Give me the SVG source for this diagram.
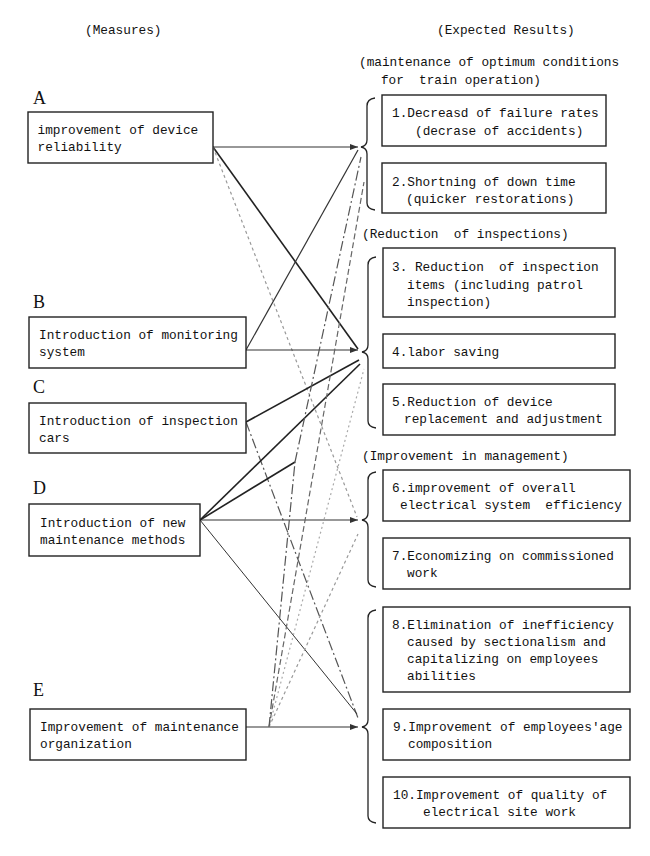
<svg xmlns="http://www.w3.org/2000/svg" width="650" height="856" viewBox="0 0 650 856">
<style>
.bg{fill:#fff}
.box{fill:#fff;stroke:#222;stroke-width:1.4}
.t{font-family:"Liberation Mono",monospace;font-size:13.5px;fill:#111;white-space:pre}
.lbl{font-family:"Liberation Serif",serif;font-size:18px;fill:#111}
.br{fill:none;stroke:#222;stroke-width:1.3}
.c{fill:none;stroke:#333;stroke-width:1.2}
.dk{stroke:#222;stroke-width:1.6}
.th{stroke:#333;stroke-width:1}
.lt{stroke:#999;stroke-dasharray:3 3}
.dd{stroke:#555;stroke-dasharray:10 3 2 3}
.dt{stroke:#aaa;stroke-dasharray:2 3}
.ds{stroke:#666;stroke-dasharray:6 3}
</style>
<defs>
<marker id="ah" viewBox="0 0 8 6" refX="8" refY="3" markerWidth="8" markerHeight="6" markerUnits="userSpaceOnUse" orient="auto"><path d="M0,0 L8,3 L0,6 Z" fill="#333"/></marker>
</defs>
<rect class="bg" x="0" y="0" width="650" height="856"/>

<g id="headers">
<text class="t" x="85" y="34" textLength="76.5" lengthAdjust="spacingAndGlyphs">(Measures)</text>
<text class="t" x="437" y="34" textLength="137.7" lengthAdjust="spacingAndGlyphs">(Expected Results)</text>
<text class="t" x="359" y="66" textLength="260.1" lengthAdjust="spacingAndGlyphs">(maintenance of optimum conditions</text>
<text class="t" x="381" y="84" textLength="160" lengthAdjust="spacingAndGlyphs">for  train operation)</text>
<text class="t" x="362" y="238" textLength="206.6" lengthAdjust="spacingAndGlyphs">(Reduction  of inspections)</text>
<text class="t" x="362" y="460" textLength="206.6" lengthAdjust="spacingAndGlyphs">(Improvement in management)</text>
</g>

<g id="connectors">
<path class="c" d="M213 147 H358" marker-end="url(#ah)"/>
<path class="c dk" d="M213 147 L358 349"/>
<path class="c lt" d="M213 147 L357 517"/>
<path class="c" d="M246 350 H358" marker-end="url(#ah)"/>
<path class="c" d="M246 350 L358 150"/>
<path class="c dk" d="M246 422 L359 360"/>
<path class="c dd" d="M246 422 L358 718"/>
<path class="c" d="M200 520 H358" marker-end="url(#ah)"/>
<path class="c dk" d="M200 520 L360 364"/>
<path class="c dk" d="M200 520 L295 462"/>
<path class="c dd" d="M295 462 L361 157"/>
<path class="c th" d="M200 520 L357 714"/>
<path class="c" d="M246 727 H358" marker-end="url(#ah)"/>
<path class="c ds" d="M269 727 L364 182"/>
<path class="c dt" d="M269 727 L364 369"/>
<path class="c lt" d="M269 727 L358 534"/>
<path class="c dd" d="M269 727 L295 462"/>
</g>

<g id="braces">
<path class="br" d="M375 98 Q367 99 367 106 L367 140 Q367 146 361 147 Q367 148 367 154 L367 203 Q367 209 375 210"/>
<path class="br" d="M376 257 Q368 258 368 265 L368 345 Q368 351 362 352 Q368 353 368 359 L368 421 Q368 427 376 428"/>
<path class="br" d="M376 472 Q368 473 368 480 L368 513 Q368 519 362 520 Q368 521 368 527 L368 580 Q368 586 376 587"/>
<path class="br" d="M376 610 Q368 611 368 618 L368 720 Q368 726 362 727 Q368 728 368 734 L368 816 Q368 822 376 823"/>
</g>

<g id="nodeA">
<text class="lbl" x="33" y="104">A</text>
<rect class="box" x="28" y="112" width="185" height="51"/>
<text class="t" x="37.5" y="134" textLength="160.7" lengthAdjust="spacingAndGlyphs">improvement of device</text>
<text class="t" x="37.5" y="151" textLength="84.2" lengthAdjust="spacingAndGlyphs">reliability</text>
</g>
<g id="nodeB">
<text class="lbl" x="33" y="308">B</text>
<rect class="box" x="29" y="317" width="217" height="51"/>
<text class="t" x="39" y="339" textLength="198.9" lengthAdjust="spacingAndGlyphs">Introduction of monitoring</text>
<text class="t" x="39" y="356" textLength="45.9" lengthAdjust="spacingAndGlyphs">system</text>
</g>
<g id="nodeC">
<text class="lbl" x="33" y="393">C</text>
<rect class="box" x="29" y="403" width="217" height="50"/>
<text class="t" x="39" y="425" textLength="198.9" lengthAdjust="spacingAndGlyphs">Introduction of inspection</text>
<text class="t" x="39" y="442" textLength="30.6" lengthAdjust="spacingAndGlyphs">cars</text>
</g>
<g id="nodeD">
<text class="lbl" x="33" y="494">D</text>
<rect class="box" x="29" y="504" width="171" height="52"/>
<text class="t" x="40" y="527" textLength="145.4" lengthAdjust="spacingAndGlyphs">Introduction of new</text>
<text class="t" x="40" y="544" textLength="145.4" lengthAdjust="spacingAndGlyphs">maintenance methods</text>
</g>
<g id="nodeE">
<text class="lbl" x="33" y="696">E</text>
<rect class="box" x="30" y="709" width="216" height="51"/>
<text class="t" x="40" y="731" textLength="198.9" lengthAdjust="spacingAndGlyphs">Improvement of maintenance</text>
<text class="t" x="40" y="748" textLength="91.8" lengthAdjust="spacingAndGlyphs">organization</text>
</g>

<g id="result1">
<rect class="box" x="382" y="95" width="224" height="51"/>
<text class="t" x="392" y="117" textLength="206.6" lengthAdjust="spacingAndGlyphs">1.Decreasd of failure rates</text>
<text class="t" x="415" y="135" textLength="168.3" lengthAdjust="spacingAndGlyphs">(decrase of accidents)</text>
</g>
<g id="result2">
<rect class="box" x="382" y="163" width="224" height="50"/>
<text class="t" x="392" y="186" textLength="183.6" lengthAdjust="spacingAndGlyphs">2.Shortning of down time</text>
<text class="t" x="406" y="203" textLength="168.3" lengthAdjust="spacingAndGlyphs">(quicker restorations)</text>
</g>
<g id="result3">
<rect class="box" x="383" y="248" width="232" height="69"/>
<text class="t" x="392" y="271" textLength="206.6" lengthAdjust="spacingAndGlyphs">3. Reduction  of inspection</text>
<text class="t" x="407" y="289" textLength="176" lengthAdjust="spacingAndGlyphs">items (including patrol</text>
<text class="t" x="407" y="306" textLength="84.2" lengthAdjust="spacingAndGlyphs">inspection)</text>
</g>
<g id="result4">
<rect class="box" x="383" y="334" width="232" height="34"/>
<text class="t" x="392" y="356" textLength="107.1" lengthAdjust="spacingAndGlyphs">4.labor saving</text>
</g>
<g id="result5">
<rect class="box" x="383" y="384" width="232" height="51"/>
<text class="t" x="392" y="406" textLength="160.7" lengthAdjust="spacingAndGlyphs">5.Reduction of device</text>
<text class="t" x="404" y="423" textLength="198.9" lengthAdjust="spacingAndGlyphs">replacement and adjustment</text>
</g>
<g id="result6">
<rect class="box" x="383" y="470" width="247" height="51"/>
<text class="t" x="392" y="492" textLength="183.6" lengthAdjust="spacingAndGlyphs">6.improvement of overall</text>
<text class="t" x="400" y="509" textLength="221.9" lengthAdjust="spacingAndGlyphs">electrical system  efficiency</text>
</g>
<g id="result7">
<rect class="box" x="383" y="538" width="247" height="51"/>
<text class="t" x="392" y="560" textLength="221.9" lengthAdjust="spacingAndGlyphs">7.Economizing on commissioned</text>
<text class="t" x="407" y="577" textLength="30.6" lengthAdjust="spacingAndGlyphs">work</text>
</g>
<g id="result8">
<rect class="box" x="383" y="607" width="247" height="85"/>
<text class="t" x="392" y="629" textLength="221.9" lengthAdjust="spacingAndGlyphs">8.Elimination of inefficiency</text>
<text class="t" x="407" y="646" textLength="198.9" lengthAdjust="spacingAndGlyphs">caused by sectionalism and</text>
<text class="t" x="407" y="663" textLength="191.3" lengthAdjust="spacingAndGlyphs">capitalizing on employees</text>
<text class="t" x="407" y="680" textLength="68.9" lengthAdjust="spacingAndGlyphs">abilities</text>
</g>
<g id="result9">
<rect class="box" x="383" y="709" width="247" height="51"/>
<text class="t" x="393" y="731" textLength="229.5" lengthAdjust="spacingAndGlyphs">9.Improvement of employees'age</text>
<text class="t" x="408" y="748" textLength="84.2" lengthAdjust="spacingAndGlyphs">composition</text>
</g>
<g id="result10">
<rect class="box" x="383" y="777" width="247" height="51"/>
<text class="t" x="393" y="799" textLength="214.2" lengthAdjust="spacingAndGlyphs">10.Improvement of quality of</text>
<text class="t" x="423" y="816" textLength="153" lengthAdjust="spacingAndGlyphs">electrical site work</text>
</g>
</svg>
